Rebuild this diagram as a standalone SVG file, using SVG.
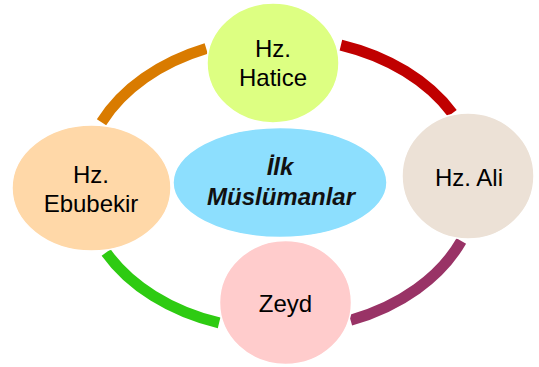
<svg xmlns="http://www.w3.org/2000/svg" width="539" height="367" viewBox="0 0 539 367">
<style>
.arc{fill:none;stroke-width:11;stroke-linecap:butt}
.node{stroke:#ffffff;stroke-width:1.5}
.lbl{font-family:"Liberation Sans",Arial,sans-serif;font-size:24px;fill:#000;text-anchor:middle}
.ttl{font-family:"Liberation Sans",Arial,sans-serif;font-size:24px;font-weight:bold;font-style:italic;fill:#111;text-anchor:middle}
</style>
<rect width="539" height="367" fill="#ffffff"/>
<g id="connectors">
<path class="arc" stroke="#d97b00" d="M101.5 122.3 A197 146 0 0 1 206.2 48.6"/>
<path class="arc" stroke="#c00000" d="M340.9 45.1 A197 146 0 0 1 452.3 113.2"/>
<path class="arc" stroke="#993366" d="M461.3 241 A197 146 0 0 1 350.6 320.3"/>
<path class="arc" stroke="#2ecb12" d="M219.1 322.9 A197 146 0 0 1 106.1 252.5"/>
</g>
<g id="hatice">
<ellipse class="node" cx="273" cy="63" rx="66" ry="60" fill="#ddff82"/>
<text class="lbl" x="273" y="57">Hz.</text>
<text class="lbl" x="273" y="86">Hatice</text>
</g>
<g id="ali">
<ellipse class="node" cx="468" cy="176" rx="66" ry="63" fill="#ece1d6"/>
<text class="lbl" x="469" y="186">Hz. Ali</text>
</g>
<g id="zeyd">
<ellipse class="node" cx="285.5" cy="302.5" rx="66" ry="62" fill="#ffcccc"/>
<text class="lbl" x="285.5" y="312">Zeyd</text>
</g>
<g id="ebubekir">
<ellipse class="node" cx="91.5" cy="188" rx="79.5" ry="63" fill="#ffd8a8"/>
<text class="lbl" x="91" y="183">Hz.</text>
<text class="lbl" x="91" y="212">Ebubekir</text>
</g>
<g id="center">
<ellipse class="node" cx="280" cy="182.5" rx="107" ry="55" fill="#8ddffe"/>
<text class="ttl" x="280" y="175">İlk</text>
<text class="ttl" x="281" y="205">Müslümanlar</text>
</g>
</svg>
